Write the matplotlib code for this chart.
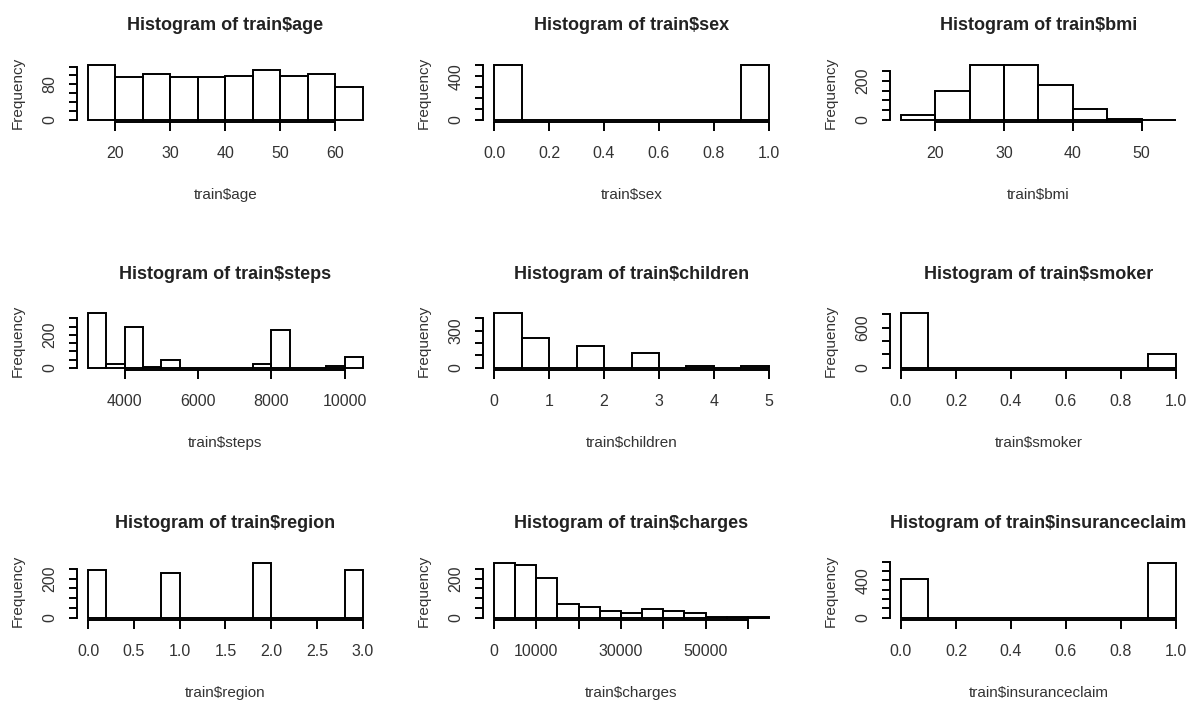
import matplotlib.pyplot as plt
import numpy as np

plt.rcParams['font.family'] = ['Liberation Sans', 'DejaVu Sans']

# histogram counts (bins as R's hist() chose them)
age_breaks = np.arange(15, 66, 5)
age_counts = [123, 96, 104, 96, 96, 99, 112, 99, 104, 73]

sex_breaks = np.linspace(0, 1, 11)
sex_counts = [502, 0, 0, 0, 0, 0, 0, 0, 0, 500]

bmi_breaks = np.arange(15, 56, 5)
bmi_counts = [27, 151, 282, 282, 178, 54, 6, 1]

steps_breaks = np.arange(3000, 10501, 500)
steps_counts = [331, 25, 248, 6, 45, 0, 0, 0, 0, 25, 228, 0, 0, 8, 66]

children_breaks = np.linspace(0, 5, 11)
children_counts = [441, 242, 0, 174, 0, 120, 0, 18, 0, 13]

smoker_breaks = np.linspace(0, 1, 11)
smoker_counts = [815, 0, 0, 0, 0, 0, 0, 0, 0, 205]

region_breaks = np.linspace(0, 3, 16)
region_counts = [245, 0, 0, 0, 228, 0, 0, 0, 0, 279, 0, 0, 0, 0, 245]

charges_breaks = np.arange(0, 65001, 5000)
charges_counts = [279, 270, 203, 71, 54, 37, 25, 46, 37, 25, 3, 3, 2]

claim_breaks = np.linspace(0, 1, 11)
claim_counts = [414, 0, 0, 0, 0, 0, 0, 0, 0, 583]

# x ticks, and which of them carry a label
age_xticks = [20, 30, 40, 50, 60]
unit_xticks = [0.0, 0.2, 0.4, 0.6, 0.8, 1.0]
bmi_xticks = [20, 30, 40, 50]
steps_xticks = [4000, 6000, 8000, 10000]
children_xticks = [0, 1, 2, 3, 4, 5]
region_xticks = [0.0, 0.5, 1.0, 1.5, 2.0, 2.5, 3.0]
charges_xticks = [0, 10000, 20000, 30000, 40000, 50000, 60000]
charges_xlabels = ['0', '10000', '', '30000', '', '50000', '']

# y ticks (step, top) and which labels R kept
y_step = [20, 100, 50, 50, 100, 200, 50, 50, 100]
y_top = [120, 500, 250, 300, 400, 800, 250, 250, 600]
y_shown = [[0, 80], [0, 400], [0, 200], [0, 200], [0, 300], [0, 600],
           [0, 200], [0, 200], [0, 400]]

names = ['age', 'sex', 'bmi', 'steps', 'children', 'smoker',
         'region', 'charges', 'insuranceclaim']

panels = [
    (age_breaks, age_counts, age_xticks, [str(t) for t in age_xticks]),
    (sex_breaks, sex_counts, unit_xticks, ['%.1f' % t for t in unit_xticks]),
    (bmi_breaks, bmi_counts, bmi_xticks, [str(t) for t in bmi_xticks]),
    (steps_breaks, steps_counts, steps_xticks, [str(t) for t in steps_xticks]),
    (children_breaks, children_counts, children_xticks, [str(t) for t in children_xticks]),
    (smoker_breaks, smoker_counts, unit_xticks, ['%.1f' % t for t in unit_xticks]),
    (region_breaks, region_counts, region_xticks, ['%.1f' % t for t in region_xticks]),
    (charges_breaks, charges_counts, charges_xticks, charges_xlabels),
    (claim_breaks, claim_counts, unit_xticks, ['%.1f' % t for t in unit_xticks]),
]

W, H = 1195, 706
fig = plt.figure(figsize=(W / 100, H / 100), dpi=100)

lefts = [77, 483, 890]
bottoms = [122, 370, 620]
pw, ph = 297, 59
lw = 1.4
txt = '#333333'

for i, (breaks, counts, xt, xl) in enumerate(panels):
    r, c = divmod(i, 3)
    ax = fig.add_axes([lefts[c] / W, 1 - bottoms[r] / H, pw / W, ph / H])
    counts = np.array(counts)
    ax.bar(breaks[:-1], counts, width=np.diff(breaks), align='edge',
           fill=False, edgecolor='black', linewidth=lw)

    x0, x1 = breaks[0], breaks[-1]
    dx = (x1 - x0) * 0.04
    ymax = counts.max()
    ax.set_xlim(x0 - dx, x1 + dx)
    ax.set_ylim(-0.04 * ymax, 1.04 * ymax)

    for s in ['top', 'right']:
        ax.spines[s].set_visible(False)
    for s in ['left', 'bottom']:
        ax.spines[s].set_linewidth(lw)
    ax.spines['bottom'].set_bounds(xt[0], xt[-1])
    ax.spines['left'].set_bounds(0, y_top[i])

    ax.set_xticks(xt)
    ax.set_xticklabels(xl)
    yt = np.arange(0, y_top[i] + 1, y_step[i])
    ax.set_yticks(yt)
    ax.set_yticklabels([str(v) if v in y_shown[i] else '' for v in yt],
                       rotation=90, va='center')
    ax.tick_params(axis='x', length=6.5, width=lw, pad=11, labelsize=11.5,
                   labelcolor=txt)
    ax.tick_params(axis='y', length=6, width=lw, pad=8, labelsize=11.5,
                   labelcolor=txt)

    ax.annotate('Histogram of train$' + names[i], xy=(0.5, 1),
                xycoords='axes fraction', xytext=(0, 37 * 0.72),
                textcoords='offset points', ha='center', va='center',
                fontsize=13, fontweight='bold', color='#222222')
    ax.annotate('train$' + names[i], xy=(0.5, 0), xycoords='axes fraction',
                xytext=(0, -73 * 0.72), textcoords='offset points',
                ha='center', va='center', fontsize=11, color=txt)
    ax.annotate('Frequency', xy=(0, 0.5), xycoords='axes fraction',
                xytext=(-59 * 0.72, 0), textcoords='offset points',
                ha='center', va='center', rotation=90, fontsize=11, color=txt)

fig.savefig('out.png', dpi=100)
